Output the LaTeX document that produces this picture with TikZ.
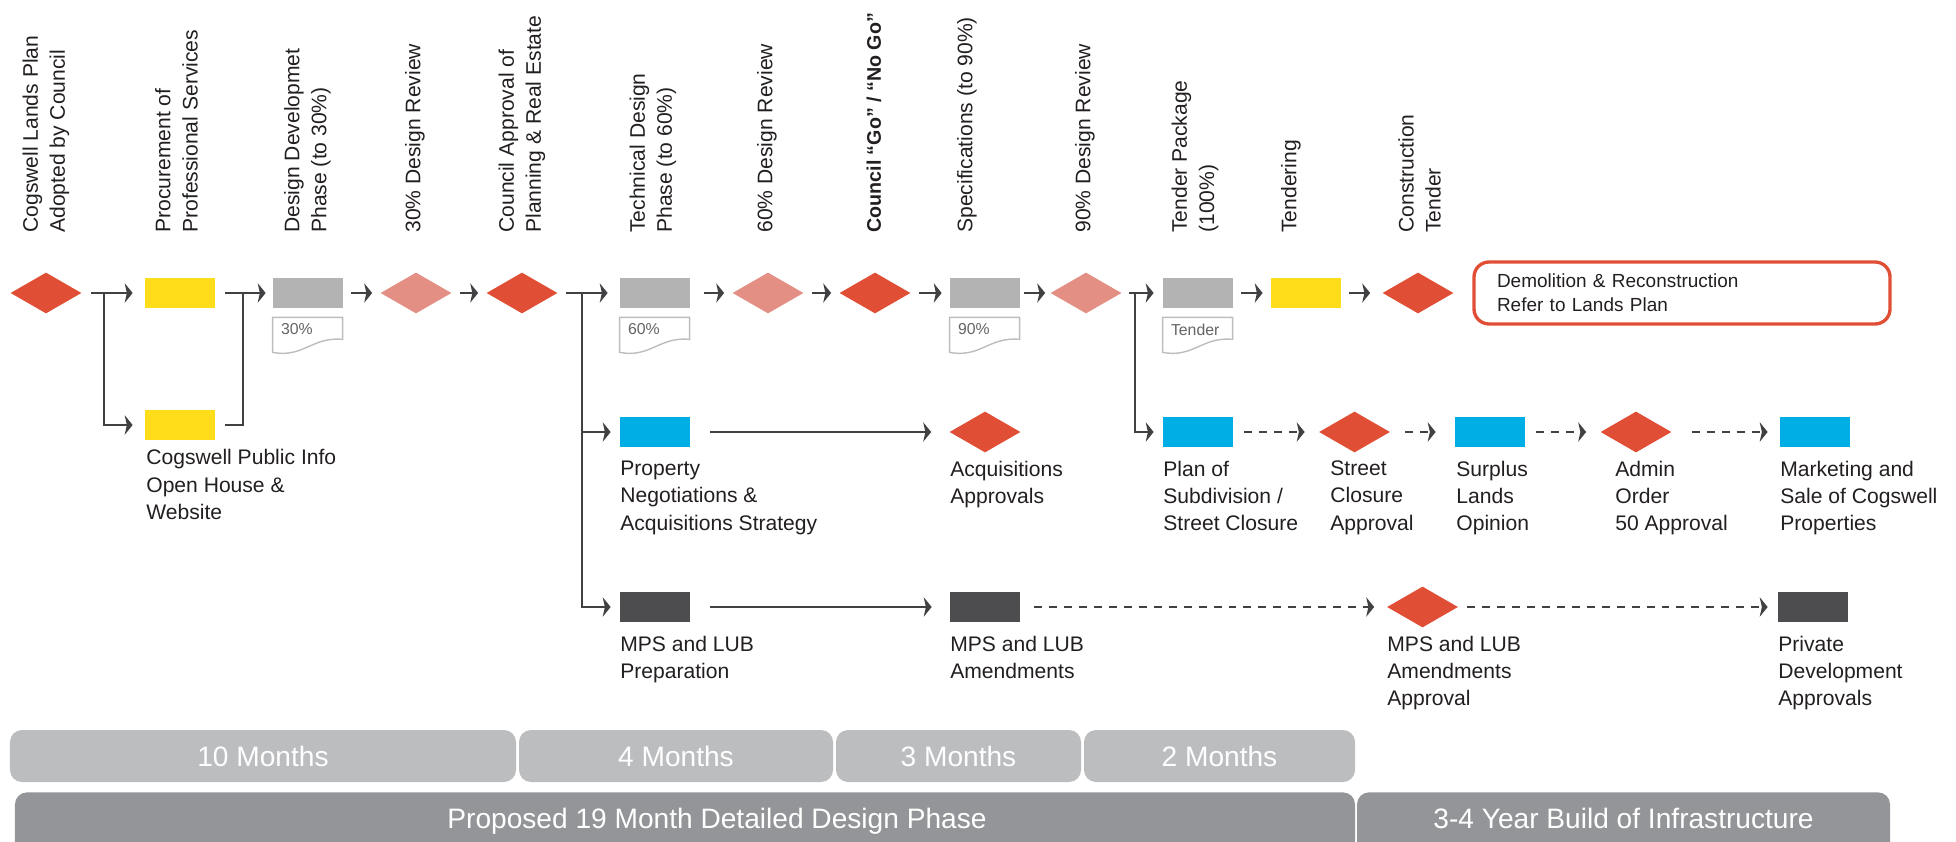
\documentclass[tikz,border=0pt]{standalone}
\usepackage{fontspec}
\setmainfont{Liberation Sans}
\usetikzlibrary{arrows.meta, shapes.geometric, positioning}

\definecolor{cogred}{HTML}{E04F35}
\definecolor{cogpink}{HTML}{E38F83}
\definecolor{cogyellow}{HTML}{FFDD1B}
\definecolor{coggrey}{HTML}{B3B3B3}
\definecolor{cogblue}{HTML}{00AEE6}
\definecolor{cogdark}{HTML}{4D4D4F}
\definecolor{cogline}{HTML}{414042}
\definecolor{cogtext}{HTML}{231F20}
\definecolor{cogdoc}{HTML}{BDBDBD}
\definecolor{cogdoctext}{HTML}{646464}
\definecolor{cogbar}{HTML}{BCBDBF}
\definecolor{cogphase}{HTML}{939598}

\begin{document}
\begin{tikzpicture}
		\tikzstyle{Decision} = [diamond, minimum width=1.42cm, minimum height=0.82cm, inner sep=0pt, fill=cogred]
		\tikzstyle{Review} = [Decision, fill=cogpink]
		\tikzstyle{Task} = [rectangle, minimum width=1.4cm, minimum height=0.6cm, inner sep=0pt, fill=coggrey]
		\tikzstyle{TopText} = [rotate=90, anchor=west, align=left, inner sep=0pt, text=cogtext, font=\fontsize{12}{15.4}\selectfont]
		\tikzstyle{LowText} = [anchor=north west, align=left, inner sep=0pt, text=cogtext, font=\fontsize{12}{15.6}\selectfont]
		\tikzstyle{Doc} = [draw=cogdoc, fill=white, line width=0.8pt]
		\tikzstyle{DocText} = [anchor=west, inner sep=0pt, text=cogdoctext, font=\fontsize{9}{10}\selectfont]
		\tikzstyle{Bar} = [rectangle, rounded corners=0.24cm, fill=cogbar, text=white, minimum height=1.04cm, font=\fontsize{16}{18}\selectfont]
		\tikzstyle{Phase} = [Bar, fill=cogphase, anchor=north, inner ysep=0pt, text height=0.72cm, text depth=1.2cm]
		\tikzstyle{arrow} = [line width=1.2pt, draw=cogline, ->, >={Stealth[length=4.5pt,width=11pt,inset=1.2pt]}, shorten <=0.16cm, shorten >=0.16cm]
		\tikzstyle{dasharrow} = [arrow, dash pattern=on 4.5pt off 4pt]
		\tikzstyle{joinline} = [line width=1.2pt, draw=cogline]
		
		%\draw[step=1,gray,very thin] (0,0) grid (39,17);
		\useasboundingbox (0,0) rectangle (39.12,16.82);
		\clip (0,0) rectangle (39.12,16.82);
		
		% main line
		\node (D1) [Decision] at (0.92,10.96) {};
		\node (Y1) [Task, fill=cogyellow] at (3.6,10.96) {};
		\node (Y2) [Task, fill=cogyellow] at (3.6,8.32) {};
		\node (G30) [Task] at (6.16,10.96) {};
		\node (P30) [Review] at (8.32,10.96) {};
		\node (CA) [Decision] at (10.44,10.96) {};
		\node (G60) [Task] at (13.1,10.96) {};
		\node (P60) [Review] at (15.36,10.96) {};
		\node (Go) [Decision] at (17.5,10.96) {};
		\node (G90) [Task] at (19.7,10.96) {};
		\node (P90) [Review] at (21.72,10.96) {};
		\node (GT) [Task] at (23.96,10.96) {};
		\node (Ty) [Task, fill=cogyellow] at (26.12,10.96) {};
		\node (CT) [Decision] at (28.36,10.96) {};
		\node (DR) [draw=cogred, line width=1.9pt, rounded corners=0.3cm, minimum width=8.32cm, minimum height=1.24cm, text width=7.4cm, inner xsep=0.46cm, align=left, text=cogtext, font=\fontsize{10.8}{13.6}\selectfont] at (33.64,10.96) {Demolition \& Reconstruction\\Refer to Lands Plan};
		
		% property and planning lines
		\node (PR) [Task, fill=cogblue] at (13.1,8.18) {};
		\node (AQ) [Decision] at (19.7,8.18) {};
		\node (PS) [Task, fill=cogblue] at (23.96,8.18) {};
		\node (SC) [Decision] at (27.09,8.18) {};
		\node (SL) [Task, fill=cogblue] at (29.8,8.18) {};
		\node (AO) [Decision] at (32.72,8.18) {};
		\node (MK) [Task, fill=cogblue] at (36.3,8.18) {};
		\node (MP) [Task, fill=cogdark] at (13.1,4.68) {};
		\node (MA) [Task, fill=cogdark] at (19.7,4.68) {};
		\node (MD) [Decision] at (28.45,4.68) {};
		\node (PD) [Task, fill=cogdark] at (36.26,4.68) {};
		
		\foreach \n/\t in {G30/30\%, G60/60\%, G90/90\%, GT/Tender} {
			\draw [Doc] ([yshift=-0.18cm]\n.south west) -- ++(1.4,0) -- ++(0,-0.44) .. controls +(-0.6,0.06) and +(0.6,-0.12) .. ([yshift=-0.88cm]\n.south west) -- cycle;
			\node (\n-txt) [DocText] at ([xshift=0.16cm,yshift=-0.42cm]\n.south west) {\t};
		}
		
		% headings
		\node (D1-top) [TopText] at (0.92,12.16) {Cogswell Lands Plan\\Adopted by Council};
		\node (Y1-top) [TopText] at (3.53,12.16) {Procurement of\\Professional Services};
		\node (G30-top) [TopText] at (6.15,12.16) {Design Developmet\\Phase (to 30\%)};
		\node (P30-top) [TopText] at (8.3,12.16) {30\% Design Review};
		\node (CA-top) [TopText] at (10.44,12.16) {Council Approval of\\Planning \& Real Estate};
		\node (G60-top) [TopText] at (13.06,12.16) {Technical Design\\Phase (to 60\%)};
		\node (P60-top) [TopText] at (15.34,12.16) {60\% Design Review};
		\node (Go-top) [TopText, font=\fontsize{11.2}{15.4}\selectfont\bfseries] at (17.48,12.16) {Council “Go” / “No Go”};
		\node (G90-top) [TopText] at (19.34,12.16) {Specifications (to 90\%)};
		\node (P90-top) [TopText] at (21.7,12.16) {90\% Design Review};
		\node (GT-top) [TopText] at (23.9,12.16) {Tender Package\\(100\%)};
		\node (Ty-top) [TopText] at (25.82,12.16) {Tendering};
		\node (CT-top) [TopText] at (28.39,12.16) {Construction\\Tender};
		
		\node (Y2-txt) [LowText] at (2.92,7.84) {Cogswell Public Info\\Open House \&\\Website};
		\node (PR-txt) [LowText] at (12.4,7.61) {Property\\Negotiations \&\\Acquisitions Strategy};
		\node (AQ-txt) [LowText] at (19.0,7.61) {Acquisitions\\Approvals};
		\node (PS-txt) [LowText] at (23.26,7.61) {Plan of\\Subdivision /\\Street Closure};
		\node (SC-txt) [LowText] at (26.6,7.61) {Street\\Closure\\Approval};
		\node (SL-txt) [LowText] at (29.12,7.61) {Surplus\\Lands\\Opinion};
		\node (AO-txt) [LowText] at (32.3,7.61) {Admin\\Order\\50 Approval};
		\node (MK-txt) [LowText] at (35.6,7.61) {Marketing and\\Sale of Cogswell\\Properties};
		\node (MP-txt) [LowText] at (12.4,4.11) {MPS and LUB\\Preparation};
		\node (MA-txt) [LowText] at (19.0,4.11) {MPS and LUB\\Amendments};
		\node (MD-txt) [LowText] at (27.74,4.11) {MPS and LUB\\Amendments\\Approval};
		\node (PD-txt) [LowText] at (35.56,4.11) {Private\\Development\\Approvals};
		
		% connectors
		\coordinate (b1) at (2.08,10.96);
		\coordinate (b2) at (4.86,10.96);
		\coordinate (b3) at (11.64,10.96);
		\coordinate (b4) at (22.7,10.96);
		\draw [arrow, shorten <=0.18cm, shorten >=0.24cm] (D1) -- (Y1);
		\draw [arrow, shorten <=0cm, shorten >=0.24cm] (b1) |- (Y2);
		\draw [joinline, shorten <=0.2cm] (Y2) -| (b2);
		\draw [arrow, shorten <=0.2cm, shorten >=0.14cm] (Y1) -- (G30);
		\draw [arrow] (G30) -- (P30);
		\draw [arrow] (P30) -- (CA);
		\draw [arrow, shorten >=0.24cm] (CA) -- (G60);
		\draw [arrow, shorten <=0cm, shorten >=0.18cm] (b3) |- (PR);
		\draw [arrow, shorten <=0cm, shorten >=0.18cm] (b3) |- (MP);
		\draw [arrow, shorten <=0.28cm] (G60) -- (P60);
		\draw [arrow] (P60) -- (Go);
		\draw [arrow] (Go) -- (G90);
		\draw [arrow, shorten <=0.08cm, shorten >=0.1cm] (G90) -- (P90);
		\draw [arrow, shorten <=0.14cm, shorten >=0.18cm] (P90) -- (GT);
		\draw [arrow, shorten <=0cm, shorten >=0.18cm] (b4) |- (PS);
		\draw [arrow] (GT) -- (Ty);
		\draw [arrow, shorten >=0.24cm] (Ty) -- (CT);
		\draw [arrow, shorten <=0.4cm, shorten >=0.36cm] (PR) -- (AQ);
		\draw [dasharrow, shorten <=0.22cm, shorten >=0.28cm] (PS) -- (SC);
		\draw [dasharrow, shorten <=0.3cm, shorten >=0.38cm] (SC) -- (SL);
		\draw [dasharrow, shorten <=0.22cm, shorten >=0.28cm] (SL) -- (AO);
		\draw [dasharrow, shorten <=0.4cm, shorten >=0.24cm] (AO) -- (MK);
		\draw [arrow, shorten <=0.4cm, shorten >=0.36cm] (MP) -- (MA);
		\draw [dasharrow, shorten <=0.28cm, shorten >=0.25cm] (MA) -- (MD);
		\draw [dasharrow, shorten <=0.18cm, shorten >=0.2cm] (MD) -- (PD);
		
		% time bars
		\node (m10) [Bar, minimum width=10.12cm] at (5.26,1.7) {10 Months};
		\node (m4) [Bar, minimum width=6.28cm] at (13.52,1.7) {4 Months};
		\node (m3) [Bar, minimum width=4.9cm] at (19.17,1.7) {3 Months};
		\node (m2) [Bar, minimum width=5.42cm] at (24.39,1.7) {2 Months};
		\node (ph19) [Phase, minimum width=26.8cm] at (13.7,0.98) {\hspace*{1.28cm}Proposed 19 Month Detailed Design Phase};
		\node (ph34) [Phase, minimum width=10.66cm] at (32.47,0.98) {3-4 Year Build of Infrastructure};
\end{tikzpicture}
\end{document}
